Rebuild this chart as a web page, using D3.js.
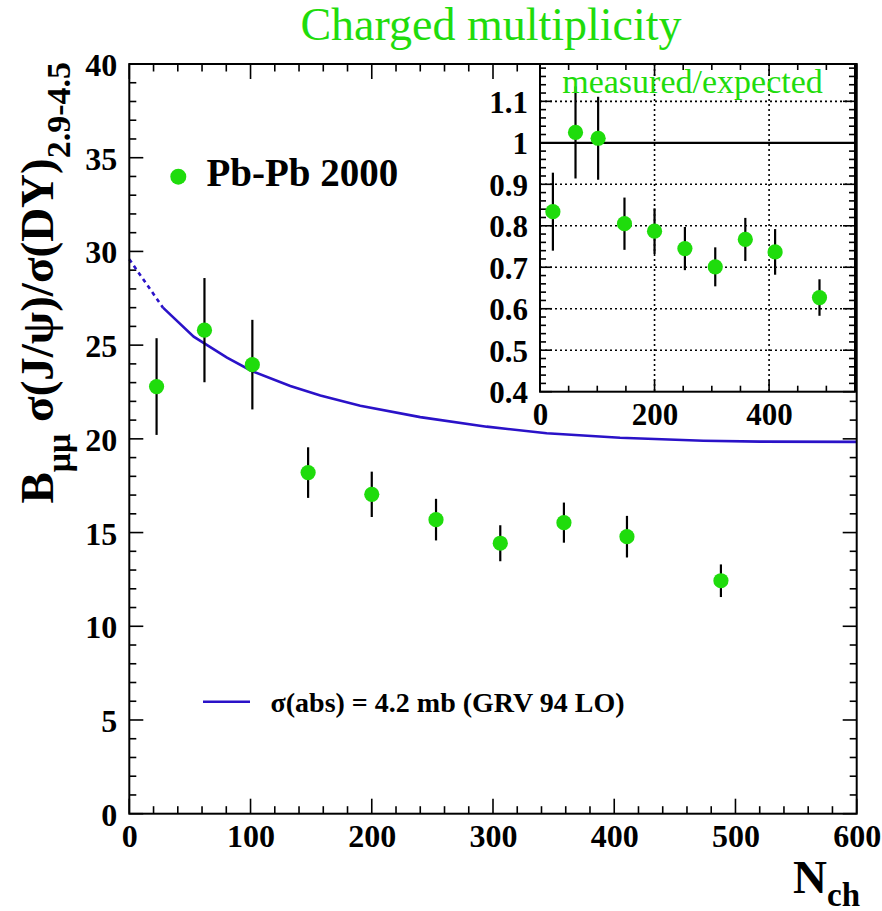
<!DOCTYPE html>
<html><head><meta charset="utf-8">
<script src="https://cdn.jsdelivr.net/npm/d3@7"></script>
<style>
html,body{margin:0;padding:0;background:#fff;}
svg{display:block;}
text{font-family:"Liberation Serif","Times New Roman",serif;}
</style></head>
<body><svg id="c" width="882" height="911"></svg>
<script>
// ---- data ----
const nch = [22.5, 62, 101.5, 147.5, 200, 253, 306, 358.5, 410.5, 488];
const ratio = [22.79, 25.80, 23.96, 18.20, 17.04, 15.69, 14.43, 15.53, 14.78, 12.43];
const ratioErr = [2.58, 2.78, 2.39, 1.35, 1.21, 1.11, 0.96, 1.07, 1.11, 0.87];
const measExp = [0.834, 1.025, 1.011, 0.805, 0.787, 0.745, 0.701, 0.767, 0.737, 0.627];
const measExpErr = [0.094, 0.111, 0.100, 0.063, 0.055, 0.052, 0.047, 0.052, 0.055, 0.044];
const curveN = [0, 27.8, 53.1, 80.6, 101, 132.8, 157.6, 190.5, 240, 294.8, 344.3, 404.8, 473.5, 520.3, 600];
const curveVal = [29.58, 27.0, 25.45, 24.33, 23.62, 22.82, 22.31, 21.77, 21.16, 20.65, 20.30, 20.06, 19.90, 19.85, 19.84];
const dashedUpTo = 1; // index where the solid line starts
const xTicks = [0, 100, 200, 300, 400, 500, 600];
const yTicks = [0, 5, 10, 15, 20, 25, 30, 35, 40];
const insetXTicks = [0, 200, 400];
const insetYTicks = [0.4, 0.5, 0.6, 0.7, 0.8, 0.9, 1, 1.1];
const insetYLabels = ["0.4", "0.5", "0.6", "0.7", "0.8", "0.9", "1", "1.1"];
const titleText = "Charged multiplicity";
const legendData = "Pb-Pb 2000";
const legendModel = "σ(abs) = 4.2 mb (GRV 94 LO)";
const insetTitle = "measured/expected";

const GREEN = "#1fdc0c", BLUE = "#2a12c8";
const svg = d3.select("#c");

// ---- main plot ----
const L = 129.3, R = 856.7, T = 64, B = 813.7;
const x = d3.scaleLinear().domain([0, 600]).range([L, R]);
const y = d3.scaleLinear().domain([0, 40]).range([B, T]);

function tickAxes(g, xs, ys, xMaj, xMin, yMaj, yMin, xl, xs2, yl, ys2) {
  // xl/xs2: major/minor length for x ticks; yl/ys2 for y ticks
  const [x0, x1] = xs.range(), [y0, y1] = ys.range();
  const minX = d3.range(xs.domain()[0], xs.domain()[1] + 1e-9, xMin);
  const minY = d3.range(ys.domain()[0], ys.domain()[1] + 1e-9, yMin);
  const isMaj = (v, step) => Math.abs(v / step - Math.round(v / step)) < 1e-6;
  const tk = g.append("g").attr("stroke", "#000").attr("stroke-width", 1.6);
  minX.forEach(v => {
    const len = isMaj(v, xMaj) ? xl : xs2;
    const px = xs(v);
    tk.append("line").attr("x1", px).attr("x2", px).attr("y1", y0).attr("y2", y0 - len);
    tk.append("line").attr("x1", px).attr("x2", px).attr("y1", y1).attr("y2", y1 + len);
  });
  minY.forEach(v => {
    const len = isMaj(v, yMaj) ? yl : ys2;
    const py = ys(v);
    tk.append("line").attr("y1", py).attr("y2", py).attr("x1", x0).attr("x2", x0 + len);
    tk.append("line").attr("y1", py).attr("y2", py).attr("x1", x1).attr("x2", x1 - len);
  });
}

const main = svg.append("g");
tickAxes(main, x, y, 100, 20, 5, 1, 15, 7.5, 14, 7);

// axis labels using d3 axes (ticks hidden, labels only)
const xAxis = d3.axisBottom(x).tickValues(xTicks).tickSize(0).tickPadding(0).tickFormat(d3.format("d"));
const gx = main.append("g").attr("transform", `translate(0,${B})`).call(xAxis);
gx.select(".domain").remove();
gx.selectAll("text").attr("y", 33).attr("dy", null)
  .attr("font-size", 32).attr("font-weight", "bold").attr("font-family", "Liberation Serif").attr("fill", "#000");

const yAxis = d3.axisLeft(y).tickValues(yTicks).tickSize(0).tickPadding(12).tickFormat(d3.format("d"));
const gy = main.append("g").attr("transform", `translate(${L},0)`).call(yAxis);
gy.select(".domain").remove();
gy.selectAll("text").attr("dy", "0.36em")
  .attr("font-size", 32).attr("font-weight", "bold").attr("font-family", "Liberation Serif").attr("fill", "#000");

// model curve
const pts = curveN.map((n, i) => [n, curveVal[i]]);
const line = d3.line().x(d => x(d[0])).y(d => y(d[1]));
main.append("path").attr("d", line(pts.slice(0, dashedUpTo + 1)))
  .attr("fill", "none").attr("stroke", BLUE).attr("stroke-width", 2.6).attr("stroke-dasharray", "4,4");
main.append("path").attr("d", line(pts.slice(dashedUpTo)))
  .attr("fill", "none").attr("stroke", BLUE).attr("stroke-width", 2.6);

// error bars + markers
main.append("g").selectAll("line").data(nch).join("line")
  .attr("x1", d => x(d)).attr("x2", d => x(d))
  .attr("y1", (d, i) => y(ratio[i] - ratioErr[i])).attr("y2", (d, i) => y(ratio[i] + ratioErr[i]))
  .attr("stroke", "#000").attr("stroke-width", 2.2);
main.append("g").selectAll("circle").data(nch).join("circle")
  .attr("cx", d => x(d)).attr("cy", (d, i) => y(ratio[i])).attr("r", 7.6).attr("fill", GREEN);

// frame
main.append("rect").attr("x", L).attr("y", T).attr("width", R - L).attr("height", B - T)
  .attr("fill", "none").attr("stroke", "#000").attr("stroke-width", 2);

// legend
main.append("circle").attr("cx", 178.3).attr("cy", 176.7).attr("r", 8).attr("fill", GREEN);
main.append("text").attr("x", 206.5).attr("y", 185.7).attr("font-size", 39).attr("font-weight", "bold").text(legendData);
main.append("line").attr("x1", 203).attr("x2", 250).attr("y1", 701.7).attr("y2", 701.7)
  .attr("stroke", BLUE).attr("stroke-width", 2.6);
main.append("text").attr("x", 270.5).attr("y", 711.7).attr("font-size", 28).attr("font-weight", "bold").text(legendModel);

// title
svg.append("text").attr("x", 491).attr("y", 40).attr("text-anchor", "middle")
  .attr("font-size", 46).attr("fill", GREEN).text(titleText);

// y title
const yt = svg.append("text").attr("transform", "translate(53,62) rotate(-90)")
  .attr("text-anchor", "end").attr("font-size", 47).attr("font-weight", "bold");
yt.append("tspan").text("B");
yt.append("tspan").attr("font-size", 34).attr("dy", 17).text("μμ");
yt.append("tspan").attr("dy", -17).text(" σ(J/ψ)/σ(DY)");
yt.append("tspan").attr("font-size", 34).attr("dy", 17).text("2.9-4.5");

// x title
const xt = svg.append("text").attr("x", 860).attr("y", 893).attr("text-anchor", "end")
  .attr("font-size", 47).attr("font-weight", "bold");
xt.append("tspan").text("N");
xt.append("tspan").attr("font-size", 33).attr("dy", 13).text("ch");

// ---- inset ----
const iL = 540, iR = 855, iT = 64, iB = 391.7;
const xi = d3.scaleLinear().domain([0, 550]).range([iL, iR]);
const yi = d3.scaleLinear().domain([0.4, 1.19]).range([iB, iT]);
const ins = svg.append("g");
ins.append("rect").attr("x", iL).attr("y", iT).attr("width", iR - iL).attr("height", iB - iT).attr("fill", "#fff");

// grid
const grid = ins.append("g").attr("stroke", "#000").attr("stroke-width", 1.6).attr("stroke-dasharray", "2,3");
insetYTicks.filter(v => v > 0.45 && Math.abs(v - 1) > 1e-6).forEach(v => {
  grid.append("line").attr("x1", iL).attr("x2", iR).attr("y1", yi(v)).attr("y2", yi(v));
});
insetXTicks.filter(v => v > 0).forEach(v => {
  grid.append("line").attr("x1", xi(v)).attr("x2", xi(v)).attr("y1", iT).attr("y2", iB);
});
ins.append("line").attr("x1", iL).attr("x2", iR).attr("y1", yi(1)).attr("y2", yi(1))
  .attr("stroke", "#000").attr("stroke-width", 2.2);

tickAxes(ins, xi, yi, 200, 50, 0.1, 0.02, 12, 6, 12, 6);

const xiAxis = d3.axisBottom(xi).tickValues(insetXTicks).tickSize(0).tickPadding(0).tickFormat(d3.format("d"));
const gxi = ins.append("g").attr("transform", `translate(0,${iB})`).call(xiAxis);
gxi.select(".domain").remove();
gxi.selectAll("text").attr("y", 33).attr("dy", null)
  .attr("font-size", 31).attr("font-weight", "bold").attr("font-family", "Liberation Serif").attr("fill", "#000");
const yiAxis = d3.axisLeft(yi).tickValues(insetYTicks).tickSize(0).tickPadding(12)
  .tickFormat((d, i) => insetYLabels[i]);
const gyi = ins.append("g").attr("transform", `translate(${iL},0)`).call(yiAxis);
gyi.select(".domain").remove();
gyi.selectAll("text").attr("dy", "0.36em")
  .attr("font-size", 31).attr("font-weight", "bold").attr("font-family", "Liberation Serif").attr("fill", "#000");

ins.append("g").selectAll("line").data(nch).join("line")
  .attr("x1", d => xi(d)).attr("x2", d => xi(d))
  .attr("y1", (d, i) => yi(measExp[i] - measExpErr[i])).attr("y2", (d, i) => yi(measExp[i] + measExpErr[i]))
  .attr("stroke", "#000").attr("stroke-width", 2.2);
ins.append("g").selectAll("circle").data(nch).join("circle")
  .attr("cx", d => xi(d)).attr("cy", (d, i) => yi(measExp[i])).attr("r", 7.6).attr("fill", GREEN);

ins.append("text").attr("x", 692.5).attr("y", 93).attr("text-anchor", "middle")
  .attr("font-size", 34).attr("fill", GREEN).text(insetTitle);

ins.append("rect").attr("x", iL).attr("y", iT).attr("width", iR - iL).attr("height", iB - iT)
  .attr("fill", "none").attr("stroke", "#000").attr("stroke-width", 2);
</script></body></html>
